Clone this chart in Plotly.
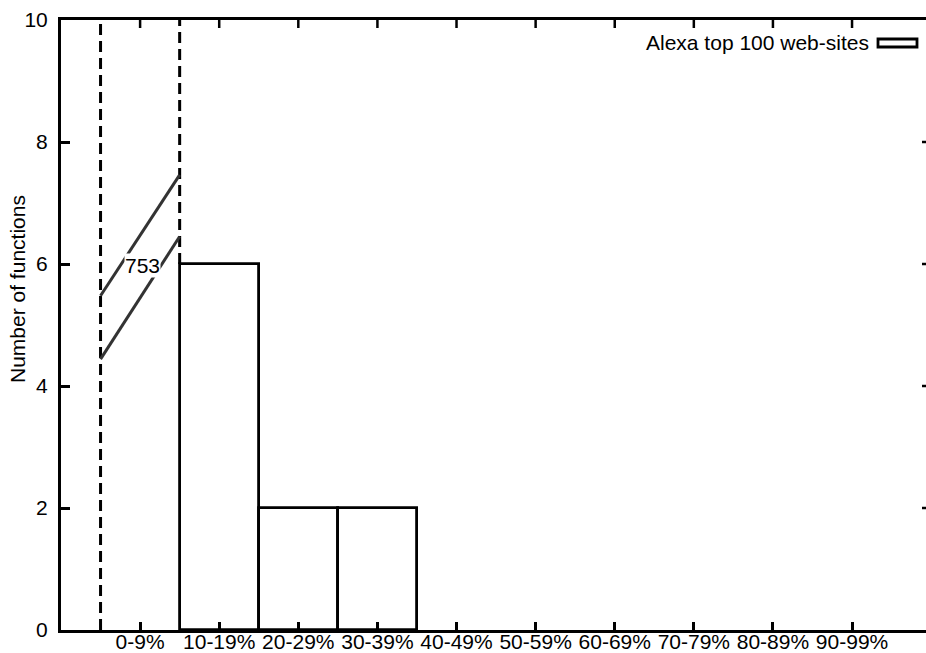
import plotly.graph_objects as go

categories = ["0-9%", "10-19%", "20-29%", "30-39%", "40-49%",
              "50-59%", "60-69%", "70-79%", "80-89%", "90-99%"]
values = [753, 6, 2, 2, 0, 0, 0, 0, 0, 0]
y_ticks = [0, 2, 4, 6, 8, 10]
series_name = "Alexa top 100 web-sites"
y_title = "Number of functions"

YMAX = 10
FONT = dict(family="Liberation Sans, Arial, sans-serif", size=21, color="black")

idx = list(range(len(categories)))
in_x = [i for i, v in zip(idx, values) if 0 < v <= YMAX]
in_y = [v for v in values if 0 < v <= YMAX]

fig = go.Figure()
fig.add_trace(go.Bar(
    x=in_x, y=in_y, width=1.0,
    marker=dict(color="white", line=dict(color="black", width=2.8)),
    showlegend=False, hoverinfo="skip",
))

shapes = []
annotations = []
# broken (out-of-range) bars
for i, v in zip(idx, values):
    if v > YMAX:
        left, right = i - 0.5, i + 0.5
        right_neighbor = values[i + 1] if i + 1 < len(values) else 0
        shapes.append(dict(type="line", xref="x", yref="y", x0=left, x1=left, y0=0, y1=YMAX,
                           line=dict(color="black", width=3, dash="11px,6px")))
        shapes.append(dict(type="line", xref="x", yref="y", x0=right, x1=right,
                           y0=min(right_neighbor, YMAX), y1=YMAX,
                           line=dict(color="black", width=3, dash="11px,6px")))
        for y0, y1 in [(5.48, 7.46), (4.44, 6.45)]:
            shapes.append(dict(type="line", xref="x", yref="y", x0=left, x1=right, y0=y0, y1=y1,
                               line=dict(color="#333333", width=3)))
        annotations.append(dict(x=i + 0.03, y=5.97, xref="x", yref="y", text=str(v),
                                showarrow=False, font=FONT, bgcolor="white",
                                xanchor="center", yanchor="middle", borderpad=0))

# right mirrored y ticks
for t in y_ticks[1:-1]:
    shapes.append(dict(type="line", xref="paper", yref="y", x0=1 - 4 / 865, x1=1, y0=t, y1=t,
                       line=dict(color="black", width=2.5)))
# top mirrored x ticks
for i in idx:
    shapes.append(dict(type="line", xref="x", yref="paper", x0=i, x1=i, y0=1 - 8 / 610, y1=1,
                       line=dict(color="black", width=2.5)))

# legend (text + box sample)
annotations.append(dict(x=(871 - 61) / 865, y=(630 - 43) / 610, xref="paper", yref="paper",
                        text=series_name, showarrow=False, font=FONT,
                        xanchor="right", yanchor="middle"))
shapes.append(dict(type="rect", xref="paper", yref="paper",
                   x0=(878 - 61) / 865, x1=(917 - 61) / 865,
                   y0=(630 - 47) / 610, y1=(630 - 39) / 610,
                   fillcolor="white", line=dict(color="black", width=2.8)))

# y axis title
annotations.append(dict(x=0, y=(630 - 289) / 610, xref="paper", yref="paper",
                        text=y_title, showarrow=False, font=FONT, textangle=-90,
                        xanchor="center", yanchor="middle", xshift=-44))

fig.update_layout(
    width=926, height=653,
    margin=dict(l=61, r=0, t=20, b=23, autoexpand=False),
    template="none",
    paper_bgcolor="white", plot_bgcolor="white",
    font=FONT,
    shapes=shapes, annotations=annotations,
    showlegend=False,
    bargap=0,
)
fig.update_xaxes(
    range=[-1, 9.935], tickmode="array", tickvals=idx, ticktext=categories,
    showline=True, linecolor="black", linewidth=2.5, mirror=True,
    ticks="inside", ticklen=8, tickwidth=2.5, tickcolor="black",
    showgrid=False, zeroline=False, automargin=False, tickfont=FONT,
    ticklabelstandoff=-9,
)
fig.update_yaxes(
    range=[0, YMAX], tickmode="array", tickvals=y_ticks,
    showline=True, linecolor="black", linewidth=3, mirror=False,
    ticks="inside", ticklen=9, tickwidth=2.5, tickcolor="black",
    showgrid=False, zeroline=False, automargin=False, tickfont=FONT,
    ticklabelstandoff=6,
)
fig.write_html("out.html")
